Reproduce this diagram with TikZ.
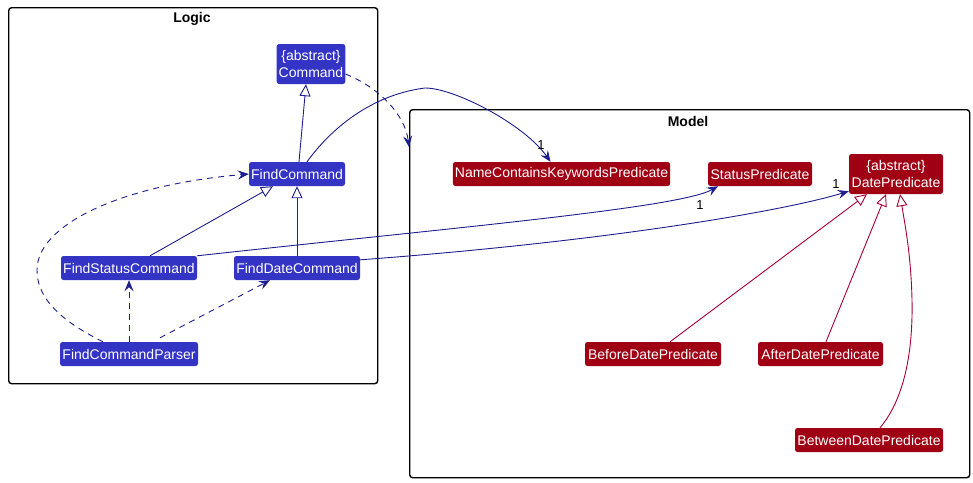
\documentclass[tikz,border=0pt]{standalone}
\usepackage{fontspec}
\setmainfont{Liberation Sans}
\usetikzlibrary{arrows.meta}
\definecolor{clsblue}{RGB}{51,51,196}
\definecolor{clsred}{RGB}{160,0,20}
\definecolor{lnblue}{RGB}{30,30,140}
\definecolor{lnred}{RGB}{168,0,54}
\tikzset{
  cls/.style={rectangle, rounded corners=2.5pt, text=white, inner xsep=2pt, inner ysep=0pt,
    minimum height=24pt, font=\fontsize{14pt}{17pt}\selectfont, align=center},
  bcls/.style={cls, fill=clsblue},
  rcls/.style={cls, fill=clsred},
  pkg/.style={draw=black, line width=1.4pt, rounded corners=3pt, anchor=north west, inner sep=0pt},
  pkgtitle/.style={font=\fontsize{14pt}{17pt}\selectfont\bfseries, text=black},
  gen/.style={-{Triangle[open, length=12pt, width=11pt, fill=white]}, line width=0.9pt},
  dep/.style={-{Stealth[length=11pt, width=9pt, inset=4pt]}, dash pattern=on 6pt off 5pt, line width=0.9pt, draw=lnblue},
  assoc/.style={-{Stealth[length=11pt, width=9pt, inset=4pt]}, line width=0.9pt, draw=lnblue},
  mult/.style={font=\fontsize{13pt}{15pt}\selectfont, text=black, inner sep=0pt}
}
\begin{document}
\begin{tikzpicture}[x=1pt, y=-1pt]
\useasboundingbox (0,0) rectangle (973,482);
% packages
\node[pkg, minimum width=369pt, minimum height=376pt] (logic) at (8,7) {};
\node[pkgtitle] (logictitle) at (192,19) {Logic};
\node[pkg, minimum width=560pt, minimum height=368pt] (model) at (409,109) {};
\node[pkgtitle] (modeltitle) at (688,121) {Model};
% logic classes
\node[bcls, minimum width=68pt, minimum height=40pt] (cmd) at (311,64) {\{abstract\}\\Command};
\node[bcls, minimum width=96pt] (fc) at (297,174) {FindCommand};
\node[bcls, minimum width=136pt] (fsc) at (129,268) {FindStatusCommand};
\node[bcls, minimum width=126pt] (fdc) at (297,268) {FindDateCommand};
\node[bcls, minimum width=138pt] (fcp) at (129,354) {FindCommandParser};
% model classes
\node[rcls, minimum width=217pt] (nckp) at (561.5,174) {NameContainsKeywordsPredicate};
\node[rcls, minimum width=104pt] (sp) at (760,174) {StatusPredicate};
\node[rcls, minimum width=94pt, minimum height=40pt] (dp) at (896,174) {\{abstract\}\\DatePredicate};
\node[rcls, minimum width=136pt] (bdp) at (653,354) {BeforeDatePredicate};
\node[rcls, minimum width=125pt] (adp) at (820.5,354) {AfterDatePredicate};
\node[rcls, minimum width=148pt] (btdp) at (869,440) {BetweenDatePredicate};
% generalizations (logic)
\draw[gen, draw=lnblue] ([xshift=2pt]fc.north) -- ([xshift=-5pt]cmd.south);
\draw[gen, draw=lnblue] ([xshift=21pt]fsc.north) -- ([xshift=-24pt]fc.south);
\draw[gen, draw=lnblue] (fdc.north) -- (fc.south);
% dependencies
\draw[dep] (fcp.north) -- (fsc.south);
\draw[dep] ([xshift=31pt, yshift=4pt]fcp.north) -- ([xshift=-27pt]fdc.south);
\draw[dep] ([xshift=-26pt]fcp.north) .. controls (55,318) and (37,295) .. (37,270)
  .. controls (37,225) and (120,185) .. (fc.west);
\draw[dep] ([yshift=-10pt]cmd.east) .. controls (380,88) and (405,115) .. ([yshift=-38pt]model.north west);
% associations
\draw[assoc] ([xshift=10pt]fc.north) .. controls (330,130) and (370,95) .. (425,88)
  .. controls (455,88) and (525,125) .. ([xshift=-11pt]nckp.north);
\node[mult] (m1) at (541,145) {1};
\draw[assoc] (fsc.north east) .. controls (450,228) and (680,208) .. ([xshift=-42pt]sp.south);
\node[mult] (m2) at (700,205) {1};
\draw[assoc] ([yshift=-4pt]fdc.north east) .. controls (600,242) and (780,212) .. ([yshift=3pt]dp.south west);
\node[mult] (m3) at (836,184) {1};
% generalizations (model)
\draw[gen, draw=lnred] ([xshift=17pt]bdp.north) -- ([xshift=-29pt]dp.south);
\draw[gen, draw=lnred] ([xshift=5.5pt]adp.north) -- ([xshift=-10pt]dp.south);
\draw[gen, draw=lnred] ([xshift=11pt]btdp.north) .. controls (905,398) and (913,350) .. (912,300)
  .. controls (911,255) and (905,225) .. ([xshift=4pt]dp.south);
\end{tikzpicture}
\end{document}
